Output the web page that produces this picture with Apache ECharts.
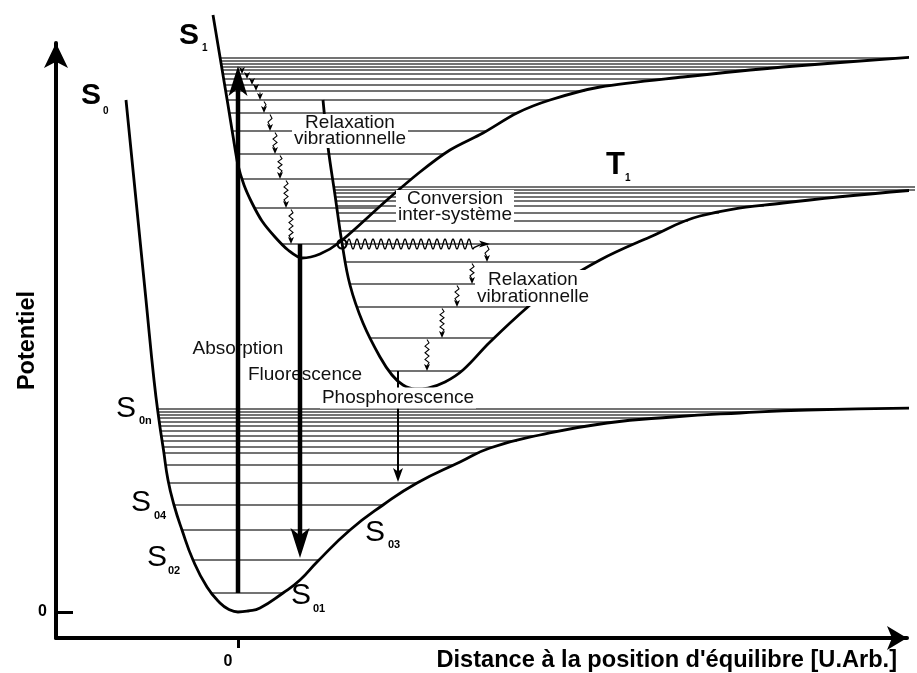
<!DOCTYPE html>
<html>
<head>
<meta charset="utf-8">
<title>Potentiel</title>
<script src="https://cdn.jsdelivr.net/npm/echarts@6/dist/echarts.min.js"></script>
<style>
  html, body { margin: 0; padding: 0; background: #fff; }
  #chart { width: 917px; height: 673px; }
</style>
</head>
<body>
<div id="chart"></div>
<script>
// courbes de potentiel [distance, énergie] (unités arbitraires)
var s0Curve = [[-112, 512], [-102, 412], [-92, 312], [-84, 232], [-79, 192], [-74.5, 162], [-70, 132], [-64, 107],
  [-56, 82], [-45, 52], [-31, 25], [-18, 9], [-9, 2.5], [0, 0], [10, 1], [22, 4], [45, 19], [62, 32], [79, 50], [112, 82],
  [145, 107], [179, 129], [222, 150], [252, 164], [302, 177], [369, 189], [435, 195], [502, 199], [569, 202], [677, 204]];
var s1Curve = [[-25, 597], [-20, 567], [-15, 537], [-10, 507], [-5, 476], [0, 447], [6, 427], [14, 409],
  [24, 391], [37, 375], [50, 362], [64, 354], [82, 358], [102, 370], [149, 412], [182, 440], [212, 462],
  [245, 479], [279, 499], [312, 512], [362, 525], [445, 535], [545, 545], [677, 555]];
var t1Curve = [[85, 512], [90, 465], [97, 417], [104, 369], [112, 327], [125, 289], [142, 255], [154, 237],
  [165, 227], [177, 223], [190, 224], [207, 230], [225, 242], [252, 270], [292, 307], [312, 322], [362, 352],
  [412, 375], [462, 396], [545, 409], [677, 422]];

// niveaux vibrationnels
var s0Levels = [203, 200, 197, 194, 190, 186, 181, 176, 171, 165, 159, 147, 129, 107, 82, 52, 19];
var s1Levels = [554, 551, 548, 545, 542, 538, 533, 527, 521, 512, 499, 481, 458, 433, 404, 368];
var t1Levels = [425, 422, 419, 415, 411, 406, 399, 391, 381, 368, 350, 328, 305, 274, 241];

// relaxation vibrationnelle : abscisse de chaque petite flèche
var s1RelaxX = [4, 9, 14, 18, 22, 26, 32, 37, 42, 48, 53];   // depuis le niveau S1 n°4
var t1RelaxX = [249, 234, 219, 204, 189];                    // depuis le niveau T1 n°9

// transitions [x, énergie départ, énergie arrivée]
var absorption = [0, s0Levels[s0Levels.length - 1], 546];
var fluorescence = [62, s1Levels[s1Levels.length - 1], 54];
var phosphorescence = [160, t1Levels[t1Levels.length - 1], 130];
var isc = [104, 252, s1Levels[s1Levels.length - 1]];

var xTicks = [0];
var yTicks = [0];

var FONT = '"Liberation Sans", Arial, sans-serif';

// abscisse où un niveau coupe la branche gauche / droite d'une courbe
function branchX(curve, y, side) {
  var iMin = 0;
  curve.forEach(function (p, i) { if (p[1] < curve[iMin][1]) iMin = i; });
  var i, a, b;
  if (side === 'left') {
    for (i = 0; i < iMin; i++) {
      a = curve[i]; b = curve[i + 1];
      if (y <= a[1] && y >= b[1]) return a[0] + (b[0] - a[0]) * (a[1] - y) / (a[1] - b[1]);
    }
    return curve[0][0];
  }
  for (i = iMin; i < curve.length - 1; i++) {
    a = curve[i]; b = curve[i + 1];
    if (y >= a[1] && y <= b[1]) return a[0] + (b[0] - a[0]) * (y - a[1]) / (b[1] - a[1]);
  }
  return curve[curve.length - 1][0];
}

function levelRows(levels, curve) {
  return levels.map(function (y) {
    return [branchX(curve, y, 'left'), branchX(curve, y, 'right'), y];
  });
}

function relaxRows(xs, levels, start) {
  return xs.map(function (x, i) { return [x, levels[start + i], levels[start + i + 1]]; });
}

function head(tip, dir, len, half) {
  var px = -dir[1], py = dir[0];
  var bx = tip[0] - dir[0] * len, by = tip[1] - dir[1] * len;
  return [tip, [bx + px * half, by + py * half],
    [tip[0] - dir[0] * len * 0.75, tip[1] - dir[1] * len * 0.75],
    [bx - px * half, by - py * half]];
}

function levelItem(params, api) {
  var a = api.coord([api.value(0), api.value(2)]);
  var b = api.coord([api.value(1), api.value(2)]);
  return {
    type: 'line',
    shape: { x1: a[0], y1: a[1], x2: b[0], y2: b[1] },
    style: { stroke: '#444', lineWidth: 1.3 }
  };
}

function arrowItem(shaftW, headLen, headHalf) {
  return function (params, api) {
    var p1 = api.coord([api.value(0), api.value(1)]);
    var p2 = api.coord([api.value(0), api.value(2)]);
    var dir = p2[1] > p1[1] ? 1 : -1;
    return {
      type: 'group',
      children: [
        { type: 'line', shape: { x1: p1[0], y1: p1[1], x2: p2[0], y2: p2[1] - dir * headLen * 0.7 },
          style: { stroke: '#000', lineWidth: shaftW } },
        { type: 'polygon', shape: { points: head(p2, [0, dir], headLen, headHalf) }, style: { fill: '#000' } }
      ]
    };
  };
}

// petites flèches ondulées entre deux niveaux
function relaxItem(params, api) {
  var p1 = api.coord([api.value(0), api.value(1)]);
  var p2 = api.coord([api.value(0), api.value(2)]);
  p1[1] += 1.5;
  var len = p2[1] - p1[1] - 5;
  var pts = [[p1[0], p1[1]]];
  var n = Math.max(1, Math.floor(len / 3));
  for (var i = 1; i < n; i++) pts.push([p1[0] + (i % 2 ? 2 : -2), p1[1] + len * i / n]);
  pts.push([p1[0], p1[1] + len]);
  return {
    type: 'group',
    children: [
      { type: 'polyline', shape: { points: pts }, style: { stroke: '#000', lineWidth: 1.1, fill: 'none' } },
      { type: 'polygon', shape: { points: head(p2, [0, 1], 7, 3) }, style: { fill: '#000' } }
    ]
  };
}

function iscItem(params, api) {
  var a = api.coord([api.value(0), api.value(2)]);
  var b = api.coord([api.value(1), api.value(2)]);
  var pts = [], x0 = a[0] + 5, x1 = b[0] - 16;
  for (var x = x0; x <= x1; x += 0.5) {
    pts.push([x, a[1] - 5 * Math.sin((x - x0) / 8 * 2 * Math.PI)]);
  }
  pts.push([b[0] - 8, a[1]]);
  return {
    type: 'group',
    children: [
      { type: 'circle', shape: { cx: a[0], cy: a[1], r: 4.5 }, style: { fill: 'none', stroke: '#000', lineWidth: 2.2 } },
      { type: 'polyline', shape: { points: pts }, style: { stroke: '#000', lineWidth: 1.3, fill: 'none' } },
      { type: 'polygon', shape: { points: head(b, [1, 0], 11, 3.5) }, style: { fill: '#000' } }
    ]
  };
}

function curveSeries(data, smooth) {
  return {
    type: 'line', data: data, showSymbol: false, smooth: smooth, clip: false, silent: true, z: 3,
    lineStyle: { color: '#000', width: 2.8 }
  };
}

function levelSeries(rows) {
  return { type: 'custom', data: rows, renderItem: levelItem, encode: { x: [0, 1], y: 2 }, clip: false, silent: true, z: 1 };
}

// textes
function txt(x, y, text, size, weight, extra) {
  var st = { text: text, fontSize: size, fontWeight: weight || 'normal', fontFamily: FONT, fill: '#000',
    align: 'left', verticalAlign: 'middle' };
  if (extra) Object.keys(extra).forEach(function (k) { st[k] = extra[k]; });
  return { type: 'text', x: x, y: y, z: 100, silent: true, style: st };
}
function note(x, y, text, lh) {
  return txt(x, y, text, 19, 'normal', { align: 'center', fill: '#111', lineHeight: lh || 19,
    backgroundColor: '#fff', padding: [1, 2] });
}

var graphics = [
  txt(81, 96, 'S', 30, 'bold'), txt(103, 111.5, '0', 10, 'bold'),
  txt(179, 36, 'S', 30, 'bold'), txt(202, 48.5, '1', 10, 'bold'),
  txt(606, 165, 'T', 31, 'bold'), txt(625, 178, '1', 10, 'bold'),
  txt(116, 409, 'S', 30), txt(139, 421, '0n', 11, 'bold'),
  txt(131, 502.5, 'S', 30), txt(154, 515.5, '04', 11, 'bold'),
  txt(147, 557.5, 'S', 30), txt(168, 571, '02', 11, 'bold'),
  txt(365, 532.5, 'S', 30), txt(388, 545, '03', 11, 'bold'),
  txt(291, 596, 'S', 30), txt(313, 609, '01', 11, 'bold'),
  note(350, 131, 'Relaxation\nvibrationnelle', 16),
  note(455, 207, 'Conversion\ninter-système', 16),
  note(533, 288, 'Relaxation\nvibrationnelle', 17),
  note(238, 349, 'Absorption'),
  note(305, 375, 'Fluorescence'),
  note(398, 398, 'Phosphorescence')
];

var chart = echarts.init(document.getElementById('chart'));

var option = {
  animation: false,
  backgroundColor: '#fff',
  grid: { left: 56, right: 10, top: 43, bottom: 35, containLabel: false, outerBoundsMode: 'none' },
  xAxis: {
    type: 'value', min: -182, max: 669,
    name: "Distance à la position d'équilibre [U.Arb.]",
    nameLocation: 'end', nameGap: -10, nameMoveOverlap: false,
    nameTextStyle: { align: 'right', verticalAlign: 'top', fontSize: 23.6, fontWeight: 'bold', fontFamily: FONT,
      color: '#000', padding: [10, 0, 0, 0] },
    axisLine: { show: true, onZero: false, symbol: ['none', 'arrow'], symbolSize: [18, 20],
      lineStyle: { color: '#000', width: 4 } },
    axisTick: { show: true, customValues: xTicks, length: 10, lineStyle: { color: '#000', width: 3 } },
    axisLabel: { customValues: xTicks, margin: 16, fontSize: 16, fontWeight: 'bold', fontFamily: FONT, color: '#000',
      formatter: function (v) { return '{a|' + v + '}'; },
      rich: { a: { fontSize: 16, fontWeight: 'bold', fontFamily: FONT, color: '#000', padding: [0, 20, 0, 0] } } },
    splitLine: { show: false }
  },
  yAxis: {
    type: 'value', min: -26, max: 569,
    name: 'Potentiel', nameLocation: 'middle', nameRotate: 90, nameGap: 16, nameMoveOverlap: false,
    nameTextStyle: { fontSize: 23.5, fontWeight: 'bold', fontFamily: FONT, color: '#000' },
    axisLine: { show: true, onZero: false, symbol: ['none', 'arrow'], symbolSize: [18, 25],
      lineStyle: { color: '#000', width: 4 } },
    axisTick: { show: true, inside: true, customValues: yTicks, length: 17, lineStyle: { color: '#000', width: 3 } },
    axisLabel: { customValues: yTicks, margin: 9, fontSize: 16, fontWeight: 'bold', fontFamily: FONT, color: '#000' },
    splitLine: { show: false }
  },
  graphic: graphics,
  series: [
    levelSeries(levelRows(s0Levels, s0Curve)),
    levelSeries(levelRows(s1Levels, s1Curve)),
    levelSeries(levelRows(t1Levels, t1Curve)),
    curveSeries(s0Curve, 0.5),
    curveSeries(s1Curve, 0.3),
    curveSeries(t1Curve, 0.4),
    { type: 'custom', data: relaxRows(s1RelaxX, s1Levels, 4).concat(relaxRows(t1RelaxX, t1Levels, 9)),
      renderItem: relaxItem, encode: { x: 0, y: [1, 2] }, clip: false, silent: true, z: 4 },
    { type: 'custom', data: [isc], renderItem: iscItem, encode: { x: [0, 1], y: 2 }, clip: false, silent: true, z: 4 },
    { type: 'custom', data: [phosphorescence], renderItem: arrowItem(2, 14, 5), encode: { x: 0, y: [1, 2] },
      clip: false, silent: true, z: 5 },
    { type: 'custom', data: [absorption, fluorescence], renderItem: arrowItem(4.5, 30, 9.5), encode: { x: 0, y: [1, 2] },
      clip: false, silent: true, z: 120 }
  ]
};

chart.setOption(option);
</script>
</body>
</html>
